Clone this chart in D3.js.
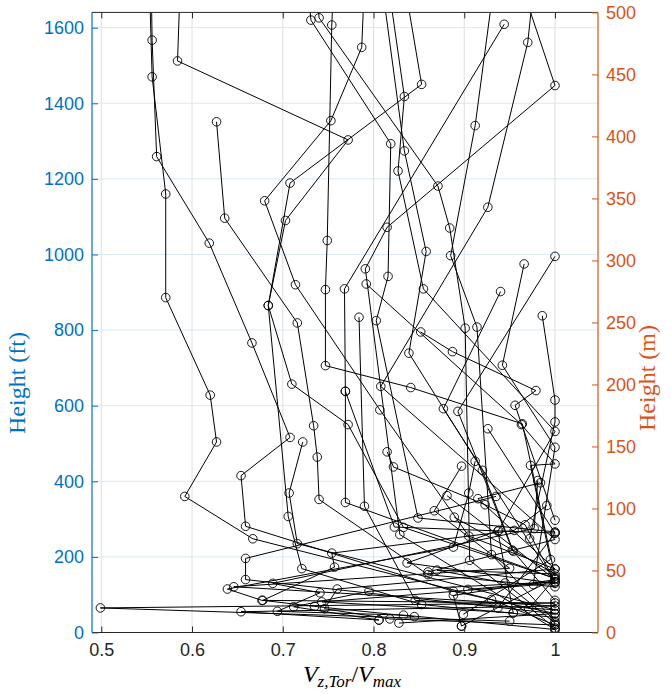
<!DOCTYPE html>
<html><head><meta charset="utf-8">
<script src="https://cdn.jsdelivr.net/npm/d3@7"></script>
<style>body{margin:0;background:#fff}svg{display:block}</style>
</head><body><div id="chart"></div>
<script>
// ---- data: each profile = [V/Vmax, height ft] from bottom to top ----
const profile01 = [[1.0,20],[0.930,87],[0.667,248],[0.592,360],[0.627,504],[0.620,628],[0.571,886],[0.571,1160],[0.556,1470],[0.553,1720]];
const profile02 = [[1.0,50],[0.888,109],[0.659,281],[0.654,415],[0.708,516],[0.666,766],[0.619,1030],[0.561,1259],[0.556,1567],[0.555,1720]];
const profile03 = [[0.971,63],[1.0,143],[0.833,278],[0.772,550],[0.710,657],[0.684,865],[0.703,1090],[0.772,1303],[0.584,1512],[0.587,1720]];
const profile04 = [[1.0,121],[0.860,153],[0.740,352],[0.738,464],[0.734,547],[0.716,819],[0.636,1096],[0.627,1351]];
const profile05 = [[1.0,168],[0.905,255],[0.807,589],[0.714,920],[0.680,1142],[0.753,1354],[0.787,1548],[0.790,1720]];
const profile06 = [[1.0,40],[0.853,74],[0.721,169],[0.706,307],[0.684,865],[0.708,1189],[0.853,1450],[0.834,1720]];
const profile07 = [[1.0,85],[0.954,215],[0.920,429],[0.839,739],[0.858,1008],[0.834,1274],[0.809,1720]];
const profile08 = [[1.0,266],[0.849,303],[0.803,825],[0.816,942],[0.819,1293],[0.731,1620],[0.727,1720]];
const profile09 = [[1.0,30],[0.930,206],[0.914,808],[0.885,997],[0.912,1341],[0.933,1720]];
const profile10 = [[1.0,12],[0.906,191],[0.901,805],[0.884,1070],[0.871,1181],[0.740,1626],[0.737,1720]];
const profile11 = [[1.0,149],[0.964,552],[0.841,648],[0.747,706],[0.747,907],[0.749,1037],[0.754,1607],[0.756,1720]];
const profile12 = [[0.860,160],[1.0,246],[0.808,651],[0.926,1125],[0.970,1561],[0.977,1720]];
const profile13 = [[1.0,263],[0.823,279],[0.769,638],[0.768,909],[0.944,1609]];
const profile14 = [[1.0,8],[0.829,259],[0.791,962],[0.815,1072],[1.0,1447],[0.962,1720]];
const profile15 = [[0.954,52],[0.937,268],[1.0,532],[0.855,909],[0.827,1221],[0.834,1418],[0.816,1720]];
const profile16 = [[0.953,218],[0.893,585],[1.0,995]];
const profile17 = [[0.972,248],[1.0,557],[1.0,615],[0.986,838]];
const profile18 = [[0.976,127],[1.0,490],[0.942,707],[0.966,975]];
const profile19 = [[1.0,297],[0.956,601],[0.979,640],[0.887,743],[0.852,795]];
const profile20 = [[0.904,114],[1.0,134],[0.877,592],[0.940,902]];
const profile21 = [[0.899,48],[0.995,193],[0.973,442],[1.0,446],[0.963,550],[0.792,922]];
const profile22 = [[1.0,60],[0.846,85],[0.790,334],[0.784,834]];
const profile23 = [[0.897,17],[1.0,143],[0.769,344],[0.769,638]];
const profile24 = [[0.937,65],[1.0,263],[0.926,539]];
const profile25 = [[1.0,60],[0.716,235],[0.707,369],[0.722,504]];
const profile26 = [[0.950,30],[0.499,65],[1.0,78],[0.677,85],[0.639,115],[0.888,226],[0.905,369],[0.912,453]];
const profile27 = [[0.806,33],[0.654,55],[1.0,70],[0.646,121],[0.950,170],[0.867,322],[0.897,440]];
const profile28 = [[0.828,25],[1.0,50],[0.659,140],[0.659,196],[0.935,360]];
const profile29 = [[1.0,8],[0.833,46],[0.694,56],[0.741,105],[0.689,130],[0.977,275],[0.981,402]];
const profile30 = [[1.0,20],[0.818,36],[0.746,63],[0.760,115],[1.0,168],[0.915,354],[0.984,396]];
const profile31 = [[0.845,42],[0.735,69],[0.678,85],[0.757,173],[0.754,210],[0.955,270],[0.991,336]];
const profile32 = [[0.806,33],[0.712,68],[0.795,109],[1.0,134],[0.967,285],[0.923,338],[0.822,438],[0.815,478]];
const profile33 = [[0.897,17],[0.888,98],[1.0,140],[0.881,362]];
const profile34 = [[0.954,52],[0.743,81],[1.0,130],[0.837,184],[0.938,270]];
const profile35 = [[1.0,25],[0.945,131],[0.870,165],[1.0,155],[0.889,305]];
const profiles = [profile01,profile02,profile03,profile04,profile05,profile06,profile07,profile08,
  profile09,profile10,profile11,profile12,profile13,profile14,profile15,profile16,profile17,profile18,
  profile19,profile20,profile21,profile22,profile23,profile24,profile25,profile26,profile27,profile28,
  profile29,profile30,profile31,profile32,profile33,profile34,profile35];

const xTicks = [0.5,0.6,0.7,0.8,0.9,1];
const xTickLabels = ["0.5","0.6","0.7","0.8","0.9","1"];
const ftTicks = [0,200,400,600,800,1000,1200,1400,1600];
const mTicks = [0,50,100,150,200,250,300,350,400,450,500];

// ---- layout ----
const W = 671, H = 694;
const L = 92, R = 598, T = 12.4, B = 632.5;
const blue = "#0072BD", orange = "#D95319", axisGray = "#262626";
const FT_PER_M = 3.28084;

const x = d3.scaleLinear().domain([0.48975, 1.04739]).range([L, R]);
const yFt = d3.scaleLinear().domain([0, 500*FT_PER_M]).range([B, T]);
const yM = d3.scaleLinear().domain([0, 500]).range([B, T]);

const svg = d3.select("#chart").append("svg").attr("width", W).attr("height", H)
  .style("font-family", "'Liberation Sans', Arial, sans-serif");

svg.append("defs").append("clipPath").attr("id","plotclip")
  .append("rect").attr("x", L).attr("y", T).attr("width", R-L).attr("height", B-T);

// grid
const grid = svg.append("g");
grid.selectAll(".vg").data(xTicks).join("line")
  .attr("x1", d=>x(d)).attr("x2", d=>x(d)).attr("y1", T).attr("y2", B)
  .attr("stroke", "#dfdfdf").attr("stroke-width", 1);
grid.selectAll(".hg").data(ftTicks.filter(d=>d>0)).join("line")
  .attr("x1", L).attr("x2", R).attr("y1", d=>yFt(d)).attr("y2", d=>yFt(d))
  .attr("stroke", "#dbe9f4").attr("stroke-width", 1);

// data
const plot = svg.append("g").attr("clip-path", "url(#plotclip)");
const line = d3.line().x(d=>x(d[0])).y(d=>yFt(d[1]));
profiles.forEach(p => {
  plot.append("path").attr("d", line(p)).attr("fill","none").attr("stroke","#000").attr("stroke-width",1);
});
profiles.forEach(p => {
  plot.selectAll(null).data(p).join("circle")
    .attr("cx", d=>x(d[0])).attr("cy", d=>yFt(d[1])).attr("r", 4.3)
    .attr("fill","none").attr("stroke","#000").attr("stroke-width",0.9);
});

// axes
const fs = 18;
const xAxisB = d3.axisBottom(x).tickValues(xTicks).tickFormat((d,i)=>xTickLabels[i]).tickSizeInner(-6).tickSizeOuter(0).tickPadding(11);
const gxb = svg.append("g").attr("transform", `translate(0,${B})`).call(xAxisB);
gxb.select(".domain").remove();
gxb.selectAll("line").attr("stroke", axisGray);
gxb.selectAll("text").attr("fill", axisGray).style("font-size", fs+"px").style("font-family","'Liberation Sans', Arial, sans-serif");
svg.append("line").attr("x1", L).attr("x2", R).attr("y1", B).attr("y2", B).attr("stroke", axisGray).attr("stroke-width",1);

const xAxisT = d3.axisTop(x).tickValues(xTicks).tickFormat("").tickSizeInner(-6).tickSizeOuter(0);
const gxt = svg.append("g").attr("transform", `translate(0,${T})`).call(xAxisT);
gxt.select(".domain").remove();
gxt.selectAll("line").attr("stroke", axisGray);
svg.append("line").attr("x1", L).attr("x2", R).attr("y1", T).attr("y2", T).attr("stroke", axisGray).attr("stroke-width",1);

const yAxisL = d3.axisLeft(yFt).tickValues(ftTicks).tickFormat(d3.format("d")).tickSizeInner(-6).tickSizeOuter(0).tickPadding(8);
const gyl = svg.append("g").attr("transform", `translate(${L},0)`).call(yAxisL);
gyl.select(".domain").remove();
gyl.selectAll("line").attr("stroke", blue);
gyl.selectAll("text").attr("fill", blue).style("font-size", fs+"px").style("font-family","'Liberation Sans', Arial, sans-serif");
svg.append("line").attr("x1", L).attr("x2", L).attr("y1", T).attr("y2", B).attr("stroke", blue).attr("stroke-width",1.2);

const yAxisR = d3.axisRight(yM).tickValues(mTicks).tickFormat(d3.format("d")).tickSizeInner(-6).tickSizeOuter(0).tickPadding(8);
const gyr = svg.append("g").attr("transform", `translate(${R},0)`).call(yAxisR);
gyr.select(".domain").remove();
gyr.selectAll("line").attr("stroke", orange);
gyr.selectAll("text").attr("fill", orange).style("font-size", fs+"px").style("font-family","'Liberation Sans', Arial, sans-serif");
svg.append("line").attr("x1", R).attr("x2", R).attr("y1", T).attr("y2", B).attr("stroke", orange).attr("stroke-width",1.2);

// axis titles (LaTeX-like serif)
const serif = "'Liberation Serif', 'DejaVu Serif', serif";
svg.append("text").attr("transform", `translate(25,383) rotate(-90)`)
  .attr("text-anchor","middle").attr("fill", blue).style("font-family", serif).style("font-size","24px")
  .text("Height (ft)");
svg.append("text").attr("transform", `translate(655,378) rotate(-90)`)
  .attr("text-anchor","middle").attr("fill", orange).style("font-family", serif).style("font-size","24px")
  .text("Height (m)");

const xl = svg.append("text").attr("x", 352).attr("y", 682).attr("text-anchor","middle")
  .attr("fill", "#000").style("font-family", serif).style("font-size","24px").style("font-style","italic");
xl.append("tspan").text("V");
xl.append("tspan").attr("dy", 5).style("font-size","17px").text("z,Tor");
xl.append("tspan").attr("dy", -5).style("font-style","normal").text("/");
xl.append("tspan").text("V");
xl.append("tspan").attr("dy", 5).style("font-size","17px").text("max");
</script></body></html>
